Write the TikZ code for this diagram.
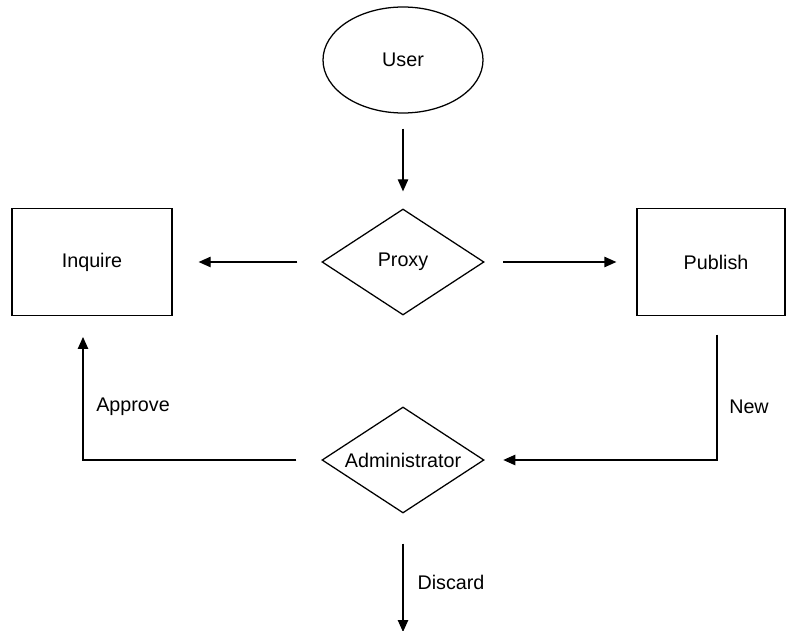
\documentclass[tikz,border=0pt]{standalone}
\usepackage{fontspec}
\setmainfont{Liberation Sans}
\usetikzlibrary{shapes.geometric,arrows.meta}
\begin{document}
\begin{tikzpicture}[x=0.75pt,y=-0.75pt,
  every node/.style={font=\fontsize{14.8pt}{17pt}\selectfont},
  line/.style={line width=0.95pt},
  flow/.style={line, -{Triangle[length=9pt,width=7.8pt]}},
  startnode/.style={draw, line width=0.95pt, ellipse, inner sep=0pt, minimum width=120pt, minimum height=79.5pt},
  decision/.style={draw, line width=0.95pt, diamond, inner sep=0pt, minimum width=121.5pt, minimum height=79.5pt},
  process/.style={draw, line width=0.95pt, rectangle, inner sep=0pt, minimum width=120pt, minimum height=80pt},
  lbl/.style={inner sep=0pt}]
\useasboundingbox (0,0) rectangle (786,631);
\begin{scope}
\clip (0,0) rectangle (786,631);
\node[startnode] (user) at (403,60) {User};
\node[decision] (proxy) at (403,262) {Proxy};
\node[process] (inquire) at (92,262) {Inquire};
% narrower box whose label sits a little right of its centre
\node[process, minimum width=111pt] (publish) at (711,262) {\hspace*{7.5pt}Publish};
% the label is wider than the diamond allows, so it is set in a zero-width box
\node[decision] (admin) at (403,460) {\makebox[0pt]{Administrator}};
\coordinate (newturn) at (717,460);
\coordinate (approveturn) at (83,460);
\coordinate (discardend) at (403,632);

\draw[flow, shorten <=11.25pt, shorten >=12.75pt] (user) -- (proxy);
\draw[flow, shorten <=18pt, shorten >=19.5pt] (proxy.west) -- (inquire.east);
\draw[flow, shorten <=14pt, shorten >=15pt] (proxy.east) -- (publish.west);
\draw[flow, shorten <=14pt, shorten >=14pt] (publish.south -| newturn) -- (newturn) -- (admin.east);
\draw[flow, shorten <=18.75pt, shorten >=15.75pt] (admin.west) -- (approveturn) -- (inquire.south -| approveturn);
\draw[flow, shorten <=22.5pt] (admin.south) -- (discardend);

\node[lbl] at (133,407) {Approve};
\node[lbl] at (749,407) {New};
\node[lbl] at (451,582) {Discard};
\end{scope}
\end{tikzpicture}
\end{document}
